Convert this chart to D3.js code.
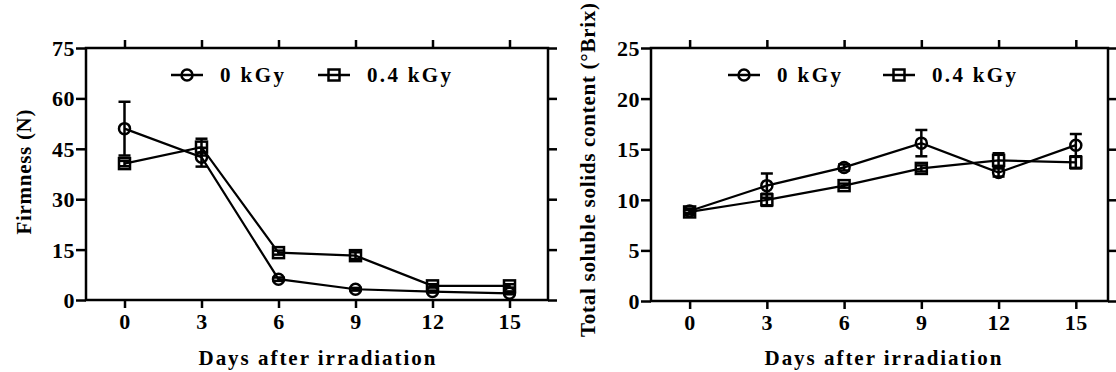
<!DOCTYPE html>
<html>
<head>
<meta charset="utf-8">
<script src="https://cdn.jsdelivr.net/npm/d3@7"></script>
<style>
  html, body { margin: 0; padding: 0; background: #fff; }
  svg { display: block; }
</style>
</head>
<body>
<svg id="chart" width="1116" height="372" font-family="Liberation Serif" font-weight="bold"></svg>
<script>
// ---- data ----
const days = [0, 3, 6, 9, 12, 15];
const seriesNames = ["0 kGy", "0.4 kGy"];

const firm0 = [51.0, 42.5, 6.2, 3.2, 2.5, 2.0];
const firm0Err = [8.0, 2.8, 0.5, 0.4, 0.3, 0.3];
const firm04 = [40.6, 45.5, 14.1, 13.2, 4.2, 4.2];
const firm04Err = [0.8, 2.5, 0.6, 1.0, 0.5, 0.5];

const tss0 = [8.9, 11.4, 13.2, 15.6, 12.7, 15.4];
const tss0Err = [0.2, 1.2, 0.3, 1.3, 0.4, 1.1];
const tss04 = [8.8, 10.0, 11.4, 13.1, 13.9, 13.7];
const tss04Err = [0.2, 0.6, 0.2, 0.3, 0.7, 0.6];

const firmTicks = [0, 15, 30, 45, 60, 75];
const tssTicks = [0, 5, 10, 15, 20, 25];
const xTitle = "Days after irradiation";
const firmTitle = "Firmness (N)";
const tssTitle = "Total soluble solids content (°Brix)";

const FONT = "Liberation Serif";
const svg = d3.select("#chart");

function txt(sel) {
  return sel.attr("font-family", FONT).attr("font-weight", "bold").attr("fill", "#000");
}

function panel(cfg) {
  const x = d3.scaleLinear().domain(cfg.xDomain).range([cfg.left, cfg.right]);
  const y = d3.scaleLinear().domain(cfg.yDomain).range([cfg.bottom, cfg.top]);
  const g = svg.append("g");

  // axes
  const axL = g.append("g").attr("transform", `translate(${cfg.left},0)`)
    .call(d3.axisLeft(y).tickValues(cfg.yTicks).tickSize(10).tickSizeOuter(0).tickPadding(1));
  const axB = g.append("g").attr("transform", `translate(0,${cfg.bottom})`)
    .call(d3.axisBottom(x).tickValues(days).tickSize(8).tickSizeOuter(0));
  const axT = g.append("g").attr("transform", `translate(0,${cfg.top})`)
    .call(d3.axisTop(x).tickValues(days).tickSize(8).tickSizeOuter(0).tickFormat(""));
  const axR = g.append("g").attr("transform", `translate(${cfg.right},0)`)
    .call(d3.axisRight(y).tickValues(cfg.yTicks).tickSize(9).tickSizeOuter(0).tickFormat(""));
  [axL, axB, axT, axR].forEach(a => {
    a.attr("font-family", FONT).attr("font-size", null);
    a.select(".domain").remove();
    a.selectAll("line").attr("stroke", "#000").attr("stroke-width", 2.5);
  });
  txt(axL.selectAll("text")).attr("font-size", 22).attr("dy", "0.34em")
    .attr("letter-spacing", 0.5);
  txt(axB.selectAll("text")).attr("font-size", 22).attr("y", 29).attr("dy", 0)
    .attr("letter-spacing", 0.5);

  // frame
  g.append("rect").attr("x", cfg.left).attr("y", cfg.top)
    .attr("width", cfg.right - cfg.left).attr("height", cfg.bottom - cfg.top)
    .attr("fill", "none").attr("stroke", "#000").attr("stroke-width", 2.5);

  const line = d3.line().x((d, i) => x(days[i])).y(d => y(d));
  const series = [
    { vals: cfg.s0, err: cfg.e0, shape: "circle" },
    { vals: cfg.s1, err: cfg.e1, shape: "square" }
  ];
  series.forEach(s => {
    g.append("path").datum(s.vals).attr("d", line)
      .attr("fill", "none").attr("stroke", "#000").attr("stroke-width", 2.2);
    const eb = g.append("g");
    s.vals.forEach((v, i) => {
      const cx = x(days[i]);
      const yt = y(v + s.err[i]), yb = y(v - s.err[i]);
      eb.append("line").attr("x1", cx).attr("x2", cx).attr("y1", yt).attr("y2", yb)
        .attr("stroke", "#000").attr("stroke-width", 2.5);
      [yt, yb].forEach(yy => eb.append("line").attr("x1", cx - 6).attr("x2", cx + 6)
        .attr("y1", yy).attr("y2", yy).attr("stroke", "#000").attr("stroke-width", 2.5));
    });
    s.vals.forEach((v, i) => drawMarker(g, s.shape, x(days[i]), y(v)));
  });

  // legend
  const ly = 75;
  [[cfg.leg0, "circle", seriesNames[0], 64], [cfg.leg1, "square", seriesNames[1], 84]].forEach(([cx, shape, name, len]) => {
    g.append("line").attr("x1", cx - 16).attr("x2", cx + 16).attr("y1", ly).attr("y2", ly)
      .attr("stroke", "#000").attr("stroke-width", 2.5);
    drawMarker(g, shape, cx, ly);
    txt(g.append("text")).attr("x", cx + 33).attr("y", ly + 7)
      .attr("font-size", 21).attr("textLength", len).attr("lengthAdjust", "spacing").text(name);
  });

  // titles
  txt(g.append("text")).attr("x", cfg.xTitleX).attr("y", 365).attr("text-anchor", "middle")
    .attr("font-size", 21).attr("textLength", 237).attr("lengthAdjust", "spacing").text(xTitle);
  txt(g.append("text")).attr("transform", `translate(${cfg.yTitleX},${cfg.yTitleY}) rotate(-90)`)
    .attr("text-anchor", "middle").attr("font-size", 21)
    .attr("textLength", cfg.yTitleLen).attr("lengthAdjust", "spacing").text(cfg.yTitle);
}

function drawMarker(g, shape, cx, cy) {
  if (shape === "circle") {
    g.append("circle").attr("cx", cx).attr("cy", cy).attr("r", 5.5)
      .attr("fill", "none").attr("stroke", "#000").attr("stroke-width", 2.5);
  } else {
    g.append("rect").attr("x", cx - 5.5).attr("y", cy - 5.5).attr("width", 11).attr("height", 11)
      .attr("fill", "none").attr("stroke", "#000").attr("stroke-width", 2.5);
  }
}

panel({
  left: 86, right: 548, top: 48, bottom: 300,
  xDomain: [-1.5, 16.5], yDomain: [0, 75], yTicks: firmTicks,
  s0: firm0, e0: firm0Err, s1: firm04, e1: firm04Err,
  leg0: 187, leg1: 334, xTitleX: 317,
  yTitle: firmTitle, yTitleX: 31, yTitleY: 172, yTitleLen: 125
});
panel({
  left: 651, right: 1108, top: 48, bottom: 301,
  xDomain: [-1.5, 16.25], yDomain: [0, 25], yTicks: tssTicks,
  s0: tss0, e0: tss0Err, s1: tss04, e1: tss04Err,
  leg0: 744, leg1: 899, xTitleX: 883,
  yTitle: tssTitle, yTitleX: 595, yTitleY: 170, yTitleLen: 334
});
</script>
</body>
</html>
